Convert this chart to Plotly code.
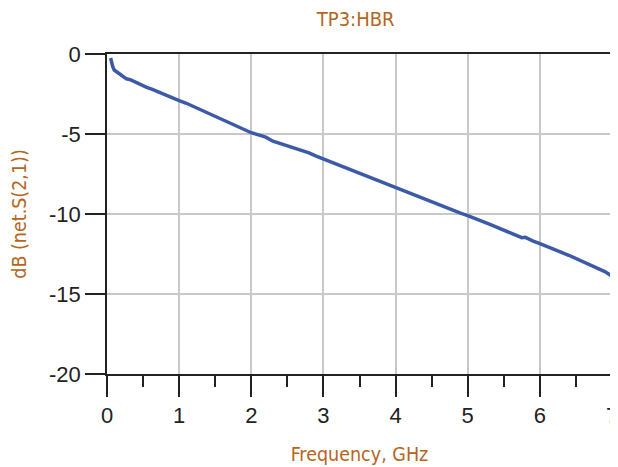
import plotly.graph_objects as go

freq_ghz = [0.05, 0.06, 0.08, 0.10, 0.13, 0.17, 0.22, 0.27, 0.33, 0.40, 0.47, 0.55, 0.62,
            0.70, 0.76, 0.82, 0.90, 1.00, 1.10, 1.20, 1.30, 1.40, 1.50, 1.60, 1.70,
            1.80, 1.90, 2.00, 2.10, 2.20, 2.30, 2.40, 2.50, 2.60, 2.70, 2.80, 2.90,
            3.00, 3.10, 3.20, 3.30, 3.40, 3.50, 3.60, 3.70, 3.80, 3.90, 4.00, 4.10,
            4.20, 4.30, 4.40, 4.50, 4.60, 4.70, 4.80, 4.90, 5.00, 5.10, 5.20, 5.30,
            5.40, 5.50, 5.60, 5.70, 5.75, 5.80, 5.85, 5.90, 6.00, 6.10, 6.20, 6.30,
            6.40, 6.50, 6.60, 6.70, 6.80, 6.90, 7.00]
s21_db = [-0.25, -0.45, -0.8, -1.0, -1.1, -1.25, -1.45, -1.55, -1.62, -1.78, -1.92, -2.08, -2.2,
          -2.35, -2.5, -2.62, -2.75, -2.92, -3.08, -3.28, -3.48, -3.66, -3.88, -4.06, -4.26,
          -4.5, -4.7, -4.92, -5.05, -5.2, -5.45, -5.6, -5.72, -5.85, -6.0, -6.18, -6.38,
          -6.56, -6.74, -6.92, -7.1, -7.28, -7.45, -7.64, -7.82, -8.0, -8.2, -8.38, -8.55,
          -8.72, -8.9, -9.08, -9.26, -9.42, -9.6, -9.78, -9.95, -10.1, -10.3, -10.48, -10.64,
          -10.82, -11.0, -11.18, -11.36, -11.48, -11.46, -11.6, -11.68, -11.85, -12.05, -12.2, -12.4,
          -12.58, -12.78, -12.98, -13.18, -13.38, -13.6, -13.88]

x_ticks = [0, 1, 2, 3, 4, 5, 6, 7]
y_ticks = [0, -5, -10, -15, -20]
y_tick_labels = ["0", "-5", "-10", "-15", "-20"]

orange = "#b5651d"
cond = "DejaVu Sans Condensed, Roboto, sans-serif"
title_font = dict(family=cond, size=20, color=orange)
axis_title_font = dict(family=cond, size=19.5, color=orange)
tick_font = dict(family="Liberation Sans, Arial, sans-serif", size=22, color="#222222")

fig = go.Figure()
fig.add_trace(go.Scatter(x=freq_ghz, y=s21_db, mode="lines",
                         line=dict(color="#3d5aa8", width=3.5), showlegend=False))

# page has an 8px body margin: figure is sized 610x459 so it fills the 618x467 window
fig.update_layout(
    width=610, height=459,
    margin=dict(l=99, r=6, t=46, b=93),
    paper_bgcolor="white", plot_bgcolor="white",
    title=dict(text="TP3:HBR", x=0.570, xanchor="center", y=0.975, yanchor="middle", font=title_font),
)
fig.update_xaxes(
    range=[0, 7], tickvals=x_ticks, ticks="outside", ticklen=21, tickwidth=1.5, tickcolor="#222",
    showline=True, linecolor="#222", linewidth=1.5, mirror=True, automargin=False,
    showgrid=True, gridcolor="#c8c8c8", gridwidth=1.5, zeroline=False,
    minor=dict(dtick=0.5, ticks="outside", ticklen=11, tickwidth=1.5, tickcolor="#222", showgrid=False),
    tickfont=tick_font, ticklabeloverflow="allow",
    title=dict(text="Frequency, GHz", font=axis_title_font, standoff=20),
)
fig.update_yaxes(
    range=[-20, 0], tickvals=y_ticks, ticktext=y_tick_labels, ticks="outside", ticklen=20,
    tickwidth=1.5, tickcolor="#222",
    showline=True, linecolor="#222", linewidth=1.5, mirror=True, automargin=False,
    showgrid=True, gridcolor="#c8c8c8", gridwidth=1.5, zeroline=False,
    tickfont=tick_font,
    title=dict(text="dB (net.S(2,1))", font=axis_title_font, standoff=18),
)

fig.write_html("out.html")
